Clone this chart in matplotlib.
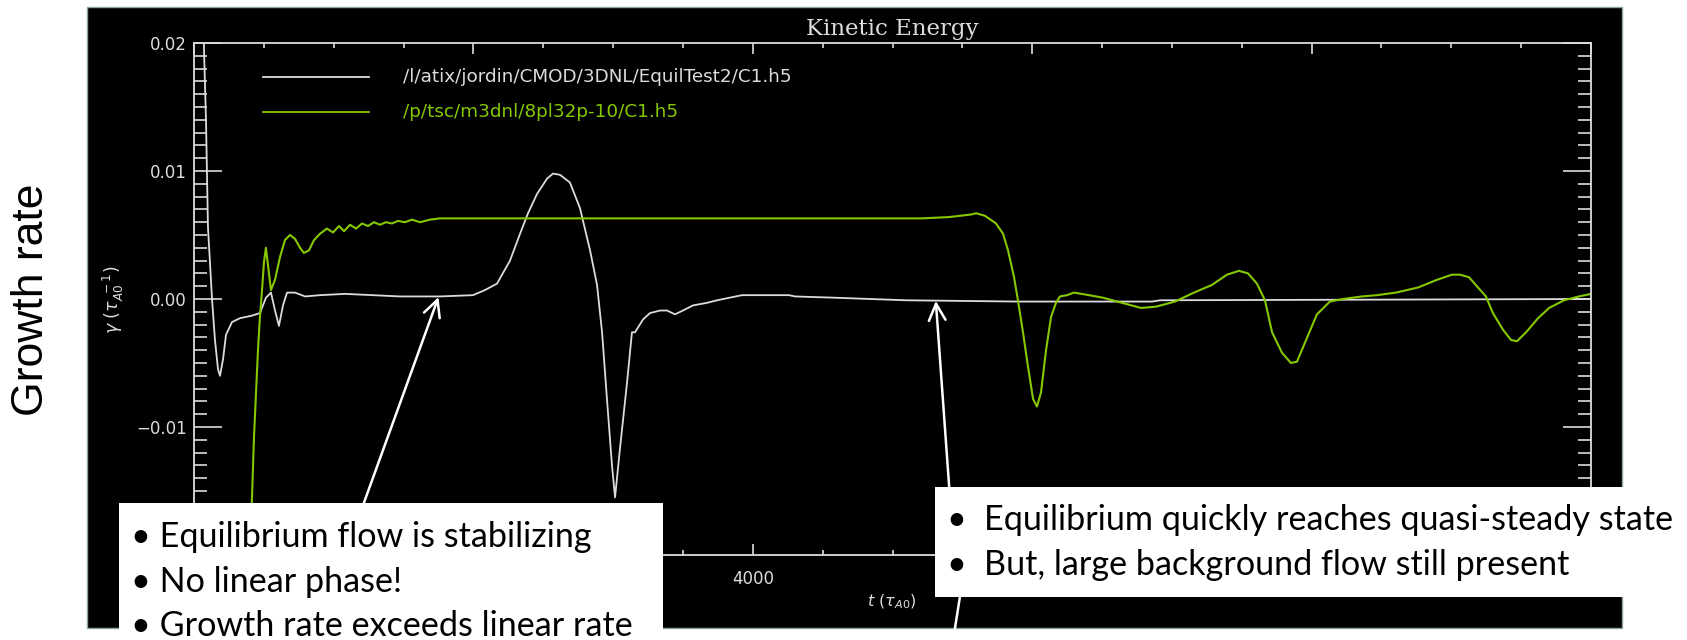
import numpy as np
import matplotlib
matplotlib.use("Agg")
import matplotlib.pyplot as plt
from matplotlib.patches import Rectangle

# series values (t in tau_A0, gamma in 1/tau_A0)
t_equil = [50, 72, 86, 100, 129, 150, 172, 186, 208, 229, 272, 329, 415, 472, 515, 551,
           580, 608, 637, 666, 723, 795, 902, 1081, 1475, 1761, 1997, 2083, 2169, 2262,
           2334, 2391, 2455, 2527, 2570, 2620, 2691, 2763, 2835, 2885, 2921, 2956, 2992,
           3014, 3049, 3100, 3135, 3157, 3214, 3264, 3336, 3386, 3443, 3500, 3572, 3672,
           3744, 3923, 4259, 4302, 4588, 5097, 5891, 6858, 6915, 10000]
g_equil = [0.030, 0.0193, 0.0139, 0.0056, 0.0, -0.0032, -0.0055, -0.0060, -0.0047, -0.0028,
           -0.0018, -0.0015, -0.0013, -0.0011, 0.0001, 0.0005, -0.0009, -0.0021, -0.0005,
           0.0005, 0.0005, 0.0002, 0.0003, 0.0004, 0.0002, 0.0002, 0.0003, 0.0007, 0.0012,
           0.0030, 0.0051, 0.0067, 0.0082, 0.0094, 0.0098, 0.0097, 0.0091, 0.0071, 0.0038,
           0.0011, -0.0026, -0.0078, -0.0130, -0.0155, -0.0117, -0.0065, -0.0026, -0.0026,
           -0.0016, -0.0011, -0.0009, -0.0009, -0.0012, -0.0009, -0.0005, -0.0003, -0.0001,
           0.0003, 0.0003, 0.0002, 0.0001, -0.0001, -0.0002, -0.0002, -0.0001, 0.0]

t_tsc = [380, 415, 429, 444, 458, 472, 487, 501, 515, 530, 551, 580, 616, 651, 687, 723, 759,
         787, 823, 859, 902, 952, 995, 1038, 1074, 1117, 1160, 1203, 1246, 1288, 1331, 1374,
         1417, 1460, 1510, 1560, 1618, 1689, 1761, 5211, 5404, 5562, 5598, 5662, 5741, 5791,
         5827, 5870, 5898, 5934, 5970, 6006, 6034, 6063, 6099, 6135, 6170, 6199, 6249, 6299,
         6407, 6507, 6643, 6779, 6886, 7022, 7158, 7287, 7394, 7480, 7545, 7609, 7666, 7717,
         7788, 7852, 7895, 7953, 8038, 8131, 8225, 8361, 8468, 8604, 8762, 8898, 9005, 9062,
         9127, 9191, 9248, 9298, 9370, 9427, 9470, 9535, 9621, 9700, 9807, 9914, 10000]
g_tsc = [-0.0233, -0.0156, -0.0109, -0.0073, -0.0040, -0.0014, 0.0007, 0.0029, 0.0040, 0.0026,
         0.0007, 0.0015, 0.0033, 0.0046, 0.0050, 0.0047, 0.0040, 0.0036, 0.0038, 0.0046, 0.0051,
         0.0055, 0.0052, 0.0057, 0.0053, 0.0058, 0.0055, 0.0059, 0.0057, 0.0060, 0.0058, 0.0060,
         0.0059, 0.0061, 0.0060, 0.0062, 0.0060, 0.0062, 0.0063, 0.0063, 0.0064, 0.0066, 0.0067,
         0.0065, 0.0059, 0.0051, 0.0038, 0.0017, -0.0001, -0.0026, -0.0053, -0.0078, -0.0084,
         -0.0073, -0.0040, -0.0014, -0.0003, 0.0002, 0.0003, 0.0005, 0.0003, 0.0001, -0.0003,
         -0.0007, -0.0006, -0.0002, 0.0005, 0.0011, 0.0019, 0.0022, 0.0020, 0.0012, -0.0001,
         -0.0026, -0.0042, -0.0050, -0.0049, -0.0034, -0.0012, -0.0002, 0.0, 0.0002, 0.0003,
         0.0005, 0.0009, 0.0015, 0.0019, 0.0019, 0.0017, 0.0009, 0.0002, -0.0011, -0.0024,
         -0.0032, -0.0033, -0.0026, -0.0015, -0.0007, -0.0001, 0.0002, 0.0004]

series_names = ["/l/atix/jordin/CMOD/3DNL/EquilTest2/C1.h5", "/p/tsc/m3dnl/8pl32p-10/C1.h5"]
yticks = [-0.02, -0.01, 0.0, 0.01, 0.02]
ytick_labels = ["", "\u22120.01", "0.00", "0.01", "0.02"]   # -0.02 sits under the call-out box
xticks = [0, 2000, 4000, 6000, 8000, 10000]
xtick_labels = ["", "", "4000", "", "", ""]                # the others are covered by the boxes

left_notes = ["Equilibrium flow is stabilizing", "No linear phase!", "Growth rate exceeds linear rate"]
right_notes = ["Equilibrium quickly reaches quasi-steady state", "But, large background flow still present"]

W, H = 1687, 640
fg = "#dcdcdc"
green = "#86c800"

fig = plt.figure(figsize=(W / 100, H / 100), dpi=100)
fig.patch.set_facecolor("white")

# black screenshot panel, behind everything
fig.patches.append(Rectangle((87 / W, 1 - 628 / H), 1535 / W, 621 / H, transform=fig.transFigure,
                             facecolor="black", edgecolor="#8aa59c", lw=1, zorder=-5))

ax = fig.add_axes([194 / W, 1 - 555 / H, 1397 / W, 512 / H], zorder=1)
ax.set_facecolor("black")
ax.plot(t_equil, g_equil, color=fg, lw=1.3)
ax.plot(t_tsc, g_tsc, color=green, lw=1.5)
ax.set_xlim(0, 10000)
ax.set_ylim(-0.02, 0.02)

for s in ax.spines.values():
    s.set_color(fg)
    s.set_linewidth(1.3)
ax.set_yticks(yticks)
ax.set_yticklabels(ytick_labels)
ax.set_xticks(xticks)
ax.set_xticklabels(xtick_labels)
ax.set_yticks(np.arange(-0.02, 0.0201, 0.001), minor=True)
ax.set_xticks(np.arange(0, 10001, 500), minor=True)
ax.tick_params(which="both", direction="in", top=True, right=True, colors=fg, width=1.2,
               labelsize=12)
ax.tick_params(axis="y", which="major", length=20, pad=5)
ax.tick_params(axis="y", which="minor", length=9.5)
ax.tick_params(axis="x", which="major", length=8, pad=11)
ax.tick_params(axis="x", which="minor", length=3.6)

ax.set_title("Kinetic Energy", family="DejaVu Serif", color=fg, fontsize=16.5, pad=6)
ax.set_ylabel(r"$\gamma\ (\tau_{A0}^{\ -1})$", color=fg, fontsize=12.5, va="center")
ax.yaxis.set_label_coords((113 - 194) / 1397, (555 - 300) / 512)
ax.set_xlabel(r"$t\ (\tau_{A0})$", color=fg, fontsize=11.5, va="center")
ax.xaxis.set_label_coords((892 - 194) / 1397, (555 - 602) / 512)

# legend drawn as in the IDL plot
for name, col, yl in [(series_names[0], fg, (555 - 77) / 512), (series_names[1], green, (555 - 112) / 512)]:
    ax.plot([(263 - 194) / 1397, (369 - 194) / 1397], [yl, yl], color=col, lw=1.3,
            transform=ax.transAxes)
    ax.text((403 - 194) / 1397, yl, name, color=col, fontsize=13.2, va="center",
            transform=ax.transAxes)

fig.text(32 / W, 1 - 300 / H, "Growth rate", rotation=90, ha="center", va="center",
         family="Liberation Sans", fontsize=32)

# overlay for call-out boxes and arrows (pixel coordinates)
ov = fig.add_axes([0, 0, 1, 1], zorder=10)
ov.set_xlim(0, W)
ov.set_ylim(H, 0)
ov.axis("off")
ov.patch.set_alpha(0)

aprops = dict(arrowstyle="->", color="white", lw=1.8, mutation_scale=30, shrinkA=0, shrinkB=0)
ov.annotate("", xy=(1750, 0.00015), xycoords=ax.transData, xytext=(345, 555), textcoords="data",
            arrowprops=aprops, zorder=1)
ov.annotate("", xy=(5310, -0.00015), xycoords=ax.transData, xytext=(953, 540), textcoords="data",
            arrowprops=aprops, zorder=1)
ov.plot([961, 955], [590, 628], color="white", lw=1.8, zorder=1)

ov.add_patch(Rectangle((119, 503), 544, 140, facecolor="white", edgecolor="none", zorder=2))
ov.add_patch(Rectangle((935, 487), 760, 110, facecolor="white", edgecolor="none", zorder=2))

for i, line in enumerate(left_notes):
    ov.text(131, 547 + 44.5 * i, "\u2022 " + line, family="Lato", fontsize=24.6,
            va="baseline", zorder=3)
for i, line in enumerate(right_notes):
    ov.text(947, 530 + 45 * i, "\u2022\u2002" + line, family="Lato", fontsize=24.6,
            va="baseline", zorder=3)

fig.savefig("out.png", dpi=100)
